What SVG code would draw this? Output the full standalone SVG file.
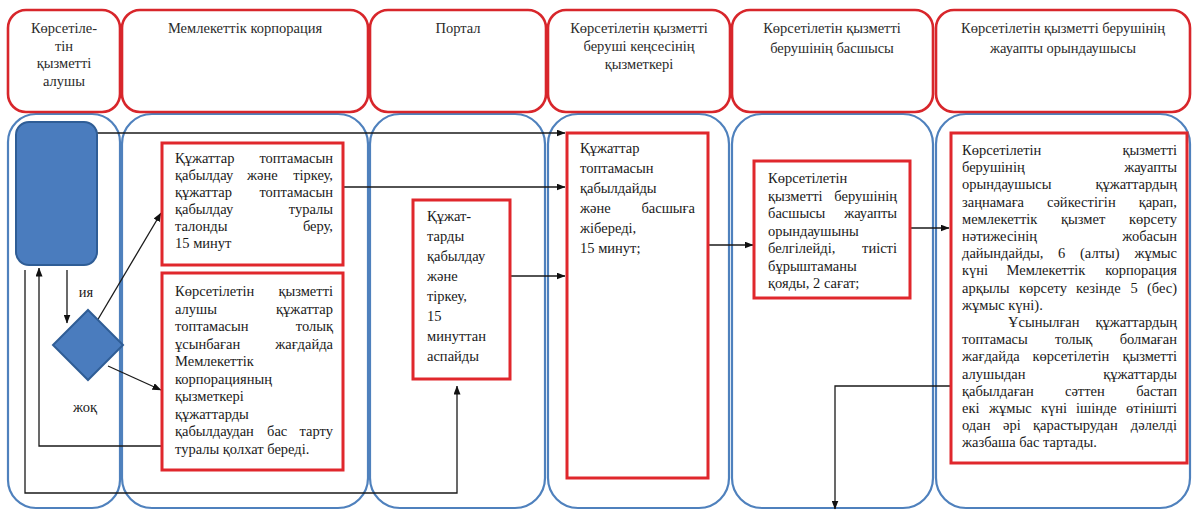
<svg xmlns="http://www.w3.org/2000/svg" width="1193" height="511" viewBox="0 0 1193 511">
<defs>
<marker id="ah" markerUnits="userSpaceOnUse" markerWidth="9" markerHeight="7" refX="8.5" refY="3.5" orient="auto">
<path d="M0,0 L9,3.5 L0,7 z" fill="#111"/>
</marker>
<style>
.hdr{fill:#fff;stroke:#d8262b;stroke-width:2.6}
.lane{fill:#fff;stroke:#4f81bd;stroke-width:2.2}
.box{fill:#fff;stroke:#e0272c;stroke-width:3}
.t{font-family:"Liberation Serif","Times New Roman",serif;font-size:14.5px;fill:#1a1a1a}
.h{font-family:"Liberation Serif","Times New Roman",serif;font-size:14.5px;fill:#2a2a2a;text-anchor:middle}
.m{text-anchor:middle}
.e{text-anchor:end}
.c{fill:none;stroke:#1a1a1a;stroke-width:1.3}
.ca{fill:none;stroke:#1a1a1a;stroke-width:1.3;marker-end:url(#ah)}
.start{fill:#4a7cbe;stroke:#2f5d96;stroke-width:2}
</style>
</defs>
<rect width="1193" height="511" fill="#fff"/>
<g id="lanes">
<rect class="lane" x="8" y="114" width="112" height="394" rx="28"/>
<rect class="lane" x="122" y="114" width="246" height="394" rx="30"/>
<rect class="lane" x="370" y="114" width="175" height="394" rx="30"/>
<rect class="lane" x="548" y="114" width="181" height="394" rx="30"/>
<rect class="lane" x="732" y="114" width="201" height="394" rx="30"/>
<rect class="lane" x="936" y="114" width="254" height="394" rx="30"/>
</g>
<g id="headers">
<g id="h1"><rect class="hdr" x="8" y="10" width="112" height="102" rx="18"/>
<text class="h" x="64" y="33">Көрсетіле-</text><text class="h" x="64" y="51">тін</text><text class="h" x="64" y="68">қызметті</text><text class="h" x="64" y="86">алушы</text></g>
<g id="h2"><rect class="hdr" x="122" y="10" width="246" height="102" rx="18"/>
<text class="h" x="245" y="33">Мемлекеттік корпорация</text></g>
<g id="h3"><rect class="hdr" x="370" y="10" width="176" height="102" rx="18"/>
<text class="h" x="458" y="33">Портал</text></g>
<g id="h4"><rect class="hdr" x="548" y="10" width="182" height="102" rx="18"/>
<text class="h" x="639" y="33">Көрсетілетін қызметті</text><text class="h" x="639" y="51">беруші кеңсесінің</text><text class="h" x="639" y="69">қызметкері</text></g>
<g id="h5"><rect class="hdr" x="732" y="10" width="201" height="102" rx="18"/>
<text class="h" x="832" y="33">Көрсетілетін қызметті</text><text class="h" x="832" y="53">берушінің басшысы</text></g>
<g id="h6"><rect class="hdr" x="936" y="10" width="254" height="102" rx="18"/>
<text class="h" x="1063" y="33">Көрсетілетін қызметті берушінің</text><text class="h" x="1063" y="53">жауапты орындаушысы</text></g>
</g>
<g id="connectors">
<path class="ca" d="M97,133 H565"/>
<path class="ca" d="M343,187 H565"/>
<path class="ca" d="M510,276 H565"/>
<path class="ca" d="M707,245 H753"/>
<path class="ca" d="M910,228 H949"/>
<path class="ca" d="M951,386 H835 V509"/>
<path class="ca" d="M67,270 V323"/>
<path class="ca" d="M97,321 L161,213"/>
<path class="ca" d="M108,366 L161,390"/>
<path class="ca" d="M162,446 H39 V268"/>
<path class="ca" d="M25,270 V493 H457 V386"/>
<text class="t m" x="86" y="297">ия</text>
<text class="t m" x="85" y="412">жоқ</text>
</g>
<g id="start">
<rect class="start" x="16" y="122" width="81" height="143" rx="13"/>
</g>
<g id="decision">
<path class="start" d="M88,310 L123,345 L88,380 L53,345 z"/>
</g>
<g id="n1">
<rect class="box" x="162" y="143" width="181" height="122"/>
<text class="t" x="175" y="163">Құжаттар</text><text class="t e" x="333" y="163">топтамасын</text>
<text class="t" x="175" y="180">қабылдау</text><text class="t" x="247" y="180">және</text><text class="t e" x="333" y="180">тіркеу,</text>
<text class="t" x="175" y="197">құжаттар</text><text class="t e" x="333" y="197">топтамасын</text>
<text class="t" x="175" y="214">қабылдау</text><text class="t e" x="333" y="214">туралы</text>
<text class="t" x="175" y="231">талонды</text><text class="t e" x="333" y="231">беру,</text>
<text class="t" x="175" y="248">15 минут</text>
</g>
<g id="n2">
<rect class="box" x="162" y="273" width="181" height="197"/>
<text class="t" x="175" y="296">Көрсетілетін</text><text class="t e" x="333" y="296">қызметті</text>
<text class="t" x="175" y="313.5">алушы</text><text class="t e" x="333" y="313.5">құжаттар</text>
<text class="t" x="175" y="331">топтамасын</text><text class="t e" x="333" y="331">толық</text>
<text class="t" x="175" y="348.5">ұсынбаған</text><text class="t e" x="333" y="348.5">жағдайда</text>
<text class="t" x="175" y="366">Мемлекеттік</text>
<text class="t" x="175" y="383.5">корпорацияның</text>
<text class="t" x="175" y="401">қызметкері</text>
<text class="t" x="175" y="418.5">құжаттарды</text>
<text class="t" x="175" y="436">қабылдаудан</text><text class="t" x="267" y="436">бас</text><text class="t e" x="333" y="436">тарту</text>
<text class="t" x="175" y="453.5">туралы қолхат береді.</text>
</g>
<g id="n3">
<rect class="box" x="413" y="200" width="97" height="179"/>
<text class="t" x="427" y="221">Құжат-</text>
<text class="t" x="427" y="241">тарды</text>
<text class="t" x="427" y="261">қабылдау</text>
<text class="t" x="427" y="281">және</text>
<text class="t" x="427" y="301">тіркеу,</text>
<text class="t" x="427" y="321">15</text>
<text class="t" x="427" y="341">минуттан</text>
<text class="t" x="427" y="361">аспайды</text>
</g>
<g id="n4">
<rect class="box" x="567" y="133" width="141" height="345"/>
<text class="t" x="580" y="153">Құжаттар</text>
<text class="t" x="580" y="173">топтамасын</text>
<text class="t" x="580" y="193">қабылдайды</text>
<text class="t" x="580" y="213">және</text><text class="t e" x="695" y="213">басшыға</text>
<text class="t" x="580" y="233">жібереді,</text>
<text class="t" x="580" y="253">15 минут;</text>
</g>
<g id="n5">
<rect class="box" x="754" y="161" width="156" height="137"/>
<text class="t" x="768" y="183">Көрсетілетін</text>
<text class="t" x="768" y="200.5">қызметті</text><text class="t e" x="897" y="200.5">берушінің</text>
<text class="t" x="768" y="218">басшысы</text><text class="t e" x="897" y="218">жауапты</text>
<text class="t" x="768" y="235.5">орындаушыны</text>
<text class="t" x="768" y="253">белгілейді,</text><text class="t e" x="897" y="253">тиісті</text>
<text class="t" x="768" y="270.5">бұрыштаманы</text>
<text class="t" x="768" y="288">қояды, 2 сағат;</text>
</g>
<g id="n6">
<rect class="box" x="951" y="133" width="236" height="330"/>
<text class="t" x="962" y="155">Көрсетілетін</text><text class="t e" x="1177" y="155">қызметті</text>
<text class="t" x="962" y="172.2">берушінің</text><text class="t e" x="1177" y="172.2">жауапты</text>
<text class="t" x="962" y="189.4">орындаушысы</text><text class="t e" x="1177" y="189.4">құжаттардың</text>
<text class="t" x="962" y="206.6">заңнамаға</text><text class="t" x="1047" y="206.6">сәйкестігін</text><text class="t e" x="1177" y="206.6">қарап,</text>
<text class="t" x="962" y="223.8">мемлекеттік</text><text class="t" x="1061" y="223.8">қызмет</text><text class="t e" x="1177" y="223.8">көрсету</text>
<text class="t" x="962" y="241">нәтижесінің</text><text class="t e" x="1177" y="241">жобасын</text>
<text class="t" x="962" y="258.2">дайындайды,</text><text class="t" x="1058" y="258.2">6</text><text class="t" x="1080" y="258.2">(алты)</text><text class="t e" x="1177" y="258.2">жұмыс</text>
<text class="t" x="962" y="275.4">күні</text><text class="t" x="1006.5" y="275.4">Мемлекеттік</text><text class="t e" x="1177" y="275.4">корпорация</text>
<text class="t" x="962" y="292.6">арқылы</text><text class="t" x="1019" y="292.6">көрсету</text><text class="t" x="1076" y="292.6">кезінде</text><text class="t" x="1130.5" y="292.6">5</text><text class="t e" x="1177" y="292.6">(бес)</text>
<text class="t" x="962" y="309.8">жұмыс күні).</text>
<text class="t" x="1008" y="327">Ұсынылған</text><text class="t e" x="1177" y="327">құжаттардың</text>
<text class="t" x="962" y="344.2">топтамасы</text><text class="t" x="1055" y="344.2">толық</text><text class="t e" x="1177" y="344.2">болмаған</text>
<text class="t" x="962" y="361.4">жағдайда</text><text class="t" x="1032.5" y="361.4">көрсетілетін</text><text class="t e" x="1177" y="361.4">қызметті</text>
<text class="t" x="962" y="378.6">алушыдан</text><text class="t e" x="1177" y="378.6">құжаттарды</text>
<text class="t" x="962" y="395.8">қабылдаған</text><text class="t" x="1065" y="395.8">сәттен</text><text class="t e" x="1177" y="395.8">бастап</text>
<text class="t" x="962" y="413">екі</text><text class="t" x="989" y="413">жұмыс</text><text class="t" x="1041" y="413">күні</text><text class="t" x="1076" y="413">ішінде</text><text class="t e" x="1177" y="413">өтінішті</text>
<text class="t" x="962" y="430.2">одан</text><text class="t" x="1003" y="430.2">әрі</text><text class="t" x="1033" y="430.2">қарастырудан</text><text class="t e" x="1177" y="430.2">дәлелді</text>
<text class="t" x="962" y="447.4">жазбаша бас тартады.</text>
</g>
</svg>
